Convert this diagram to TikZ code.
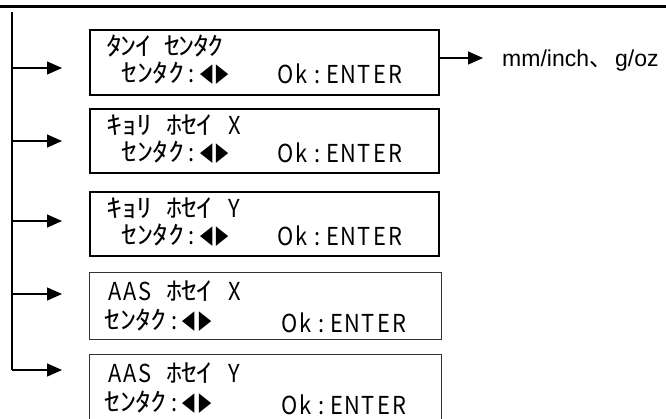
\documentclass[tikz,border=0pt]{standalone}
\usepackage{fontspec}
\usepackage{graphicx}
\setmainfont{Liberation Sans}
\newfontfamily\jp{Noto Sans CJK JP}
\newlength\cw
\def\Kloop#1{\ifx#1\relax\else\makebox[\cw][c]{\scalebox{1.7}[1.35]{#1}}\expandafter\Kloop\fi}
\newcommand\K[1]{\Kloop#1\relax}
\def\Lloop#1{\ifx#1\relax\else\makebox[\cw][c]{\scalebox{1.15}[1.3]{#1}}\expandafter\Lloop\fi}
\newcommand\La[1]{\Lloop#1\relax}
\def\Tloop#1{\ifx#1\relax\else\makebox[\cw][c]{\scalebox{0.8}[1.1]{#1}}\expandafter\Tloop\fi}
\newcommand\Tr[1]{\Tloop#1\relax}
\newcommand\B{\hspace*{\cw}}
\newcommand\lcd[2]{{\jp\fontsize{19}{19}\selectfont\setlength\cw{#1pt}#2}}
\usetikzlibrary{arrows.meta}
\begin{document}
\begin{tikzpicture}[x=1pt,y=-1pt,
  lcdbox/.style={draw=black,line width=1.5pt,minimum width=349pt,anchor=north west,inner sep=0pt},
  lcdboxb/.style={draw=black!80,line width=1.2pt,minimum width=352pt,anchor=north west,inner sep=0pt},
  lcdtxt/.style={anchor=base west,inner sep=0pt},
  conn/.style={line width=1.3pt},
  arr/.style={line width=1.3pt,-{Triangle[length=15pt,width=13pt]}}]
\useasboundingbox (0,0) rectangle (666,418);
% top rule
\coordinate (r0) at (0,6.5);
\coordinate (r1) at (666,6.5);
\draw[line width=2.5pt] (r0) -- (r1);
% boxes
\node[lcdbox,minimum height=65pt] (b1) at (89,29) {};
\node[lcdbox,minimum height=64pt] (b2) at (89,108) {};
\node[lcdbox,minimum height=64pt] (b3) at (89,191) {};
\node[lcdboxb,minimum height=67pt] (b4) at (89,272) {};
\node[lcdboxb,minimum height=66pt] (b5) at (89,354) {};
% texts box 1
\node[lcdtxt] (t1a) at (107,55) {\lcd{14.5}{\K{ﾀﾝｲ}\B\K{ｾﾝﾀｸ}}};
\node[lcdtxt] (t1b) at (122,82) {\lcd{15.4}{\K{ｾﾝﾀｸ}\La{:}\Tr{◀▶}}};
\node[lcdtxt] (t1c) at (278,83) {\lcd{15.6}{\La{Ok:ENTER}}};
% box 2
\node[lcdtxt] (t2a) at (107,134) {\lcd{15}{\K{ｷｮﾘ}\B\K{ﾎｾｲ}\B\La{X}}};
\node[lcdtxt] (t2b) at (122,161) {\lcd{15.4}{\K{ｾﾝﾀｸ}\La{:}\Tr{◀▶}}};
\node[lcdtxt] (t2c) at (278,162) {\lcd{15.6}{\La{Ok:ENTER}}};
% box 3
\node[lcdtxt] (t3a) at (107,217) {\lcd{15}{\K{ｷｮﾘ}\B\K{ﾎｾｲ}\B\La{Y}}};
\node[lcdtxt] (t3b) at (122,244) {\lcd{15.4}{\K{ｾﾝﾀｸ}\La{:}\Tr{◀▶}}};
\node[lcdtxt] (t3c) at (278,245) {\lcd{15.6}{\La{Ok:ENTER}}};
% box 4
\node[lcdtxt] (t4a) at (107,300) {\lcd{15}{\La{AAS}\B\K{ﾎｾｲ}\B\La{X}}};
\node[lcdtxt] (t4b) at (105,329) {\lcd{15.3}{\K{ｾﾝﾀｸ}\La{:}\Tr{◀▶}}};
\node[lcdtxt] (t4c) at (282,332) {\lcd{15.6}{\La{Ok:ENTER}}};
% box 5
\node[lcdtxt] (t5a) at (107,382) {\lcd{15}{\La{AAS}\B\K{ﾎｾｲ}\B\La{Y}}};
\node[lcdtxt] (t5b) at (105,411) {\lcd{15.3}{\K{ｾﾝﾀｸ}\La{:}\Tr{◀▶}}};
\node[lcdtxt] (t5c) at (282,414) {\lcd{15.6}{\La{Ok:ENTER}}};
% trunk
\coordinate (top) at (12,12);
\coordinate (j1) at (12,68);
\coordinate (j2) at (12,141);
\coordinate (j3) at (12,221);
\coordinate (j4) at (12,294);
\coordinate (j5) at (12,370);
\coordinate (e1) at (62,68);
\coordinate (e2) at (62,141);
\coordinate (e3) at (62,221);
\coordinate (e4) at (62,294);
\coordinate (e5) at (62,370);
\draw[conn] (top) -- (j5);
\foreach \i in {1,...,5}{\draw[arr] (j\i) -- (e\i);}
% out arrow
\coordinate (o1) at (b1.east |- 0,58);
\coordinate (o2) at (483,58);
\draw[arr] (o1) -- (o2);
\node[anchor=west,inner sep=0pt,font=\fontsize{23}{23}\selectfont] (unit) at (502,61) {mm/inch{\jp 、}\hspace{3pt}g/oz};
\end{tikzpicture}
\end{document}
